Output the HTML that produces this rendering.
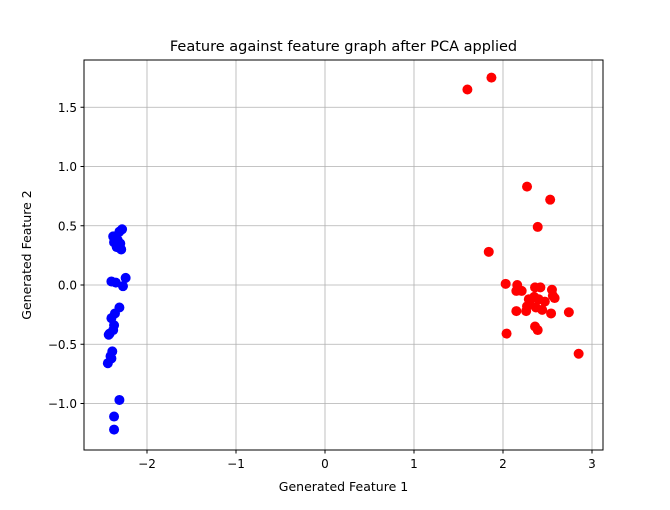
<!DOCTYPE html>
<html><head><meta charset="utf-8"><style>
body{margin:0;background:#fff}
svg text{font-family:"DejaVu Sans","Liberation Sans",sans-serif;fill:#000}
</style></head><body>
<svg id="chart" width="670" height="505" xmlns="http://www.w3.org/2000/svg">
<rect width="670" height="505" fill="#fff"/>
<g id="grid"></g>
<g id="pts"></g>
<rect x="84" y="60" width="519" height="390" fill="none" stroke="#000" stroke-width="1"/>
<g id="ticks"></g>
<text x="343.5" y="51" font-size="14.5" text-anchor="middle">Feature against feature graph after PCA applied</text>
<text x="343.5" y="491" font-size="12.5" text-anchor="middle">Generated Feature 1</text>
<text transform="translate(31,255) rotate(-90)" font-size="12.5" text-anchor="middle">Generated Feature 2</text>
</svg>
<script>
const xTicks=[-2,-1,0,1,2,3];
const yTicks=[-1.0,-0.5,0.0,0.5,1.0,1.5];
const blueX=[-2.28,-2.31,-2.35,-2.38,-2.33,-2.37,-2.30,-2.34,-2.29,-2.40,-2.35,-2.24,-2.27,-2.31,-2.36,-2.37,-2.38,-2.42,-2.40,-2.43,-2.39,-2.40,-2.44,-2.41,-2.31,-2.37,-2.37];
const blueY=[0.47,0.45,0.41,0.41,0.38,0.36,0.35,0.32,0.30,0.03,0.02,0.06,-0.01,-0.19,-0.24,-0.34,-0.38,-0.41,-0.28,-0.42,-0.56,-0.62,-0.66,-0.60,-0.97,-1.11,-1.22];
const redX=[1.87,1.60,2.27,2.53,2.39,1.84,2.03,2.16,2.15,2.21,2.36,2.42,2.55,2.56,2.58,2.35,2.40,2.30,2.27,2.15,2.26,2.37,2.44,2.54,2.74,2.36,2.39,2.04,2.85,2.47,2.29];
const redY=[1.75,1.65,0.83,0.72,0.49,0.28,0.01,0.00,-0.05,-0.05,-0.02,-0.02,-0.04,-0.09,-0.11,-0.10,-0.12,-0.15,-0.18,-0.22,-0.22,-0.19,-0.21,-0.24,-0.23,-0.35,-0.38,-0.41,-0.58,-0.14,-0.12];
const X=v=>325+89*v, Y=v=>285-118.5*v;
const NS="http://www.w3.org/2000/svg";
const grid=document.getElementById('grid'),ticks=document.getElementById('ticks'),pts=document.getElementById('pts');
function mk(tag,attrs,parent){const e=document.createElementNS(NS,tag);for(const k in attrs)e.setAttribute(k,attrs[k]);parent.appendChild(e);return e;}
xTicks.forEach(t=>{
 const l=mk('line',{x1:X(t),x2:X(t),y1:60,y2:450,stroke:'#b0b0b0','stroke-width':0.8},grid);
 
 
 mk('line',{x1:X(t),x2:X(t),y1:450,y2:453.5,stroke:'#000'},ticks);
 const tx=mk('text',{x:X(t),y:468,'font-size':12,'text-anchor':'middle'},ticks);
 tx.textContent=t<0?'\u2212'+Math.abs(t):String(t);
 
 
});
yTicks.forEach(t=>{
 const l=mk('line',{x1:84,x2:603,y1:Y(t),y2:Y(t),stroke:'#b0b0b0','stroke-width':0.8},grid);
 
 
 mk('line',{x1:80.5,x2:84,y1:Y(t),y2:Y(t),stroke:'#000'},ticks);
 const tx=mk('text',{x:77,y:Y(t)+4.5,'font-size':12,'text-anchor':'end'},ticks);
 tx.textContent=(t<0?'\u2212':'')+Math.abs(t).toFixed(1);
 
 
});
blueX.forEach((v,i)=>{
 const c=mk('circle',{cx:X(v),cy:Y(blueY[i]),r:5,fill:'#0000ff'},pts);
 
 
});
redX.forEach((v,i)=>{
 const c=mk('circle',{cx:X(v),cy:Y(redY[i]),r:5,fill:'#ff0000'},pts);
 
 
});
</script>
</body></html>
